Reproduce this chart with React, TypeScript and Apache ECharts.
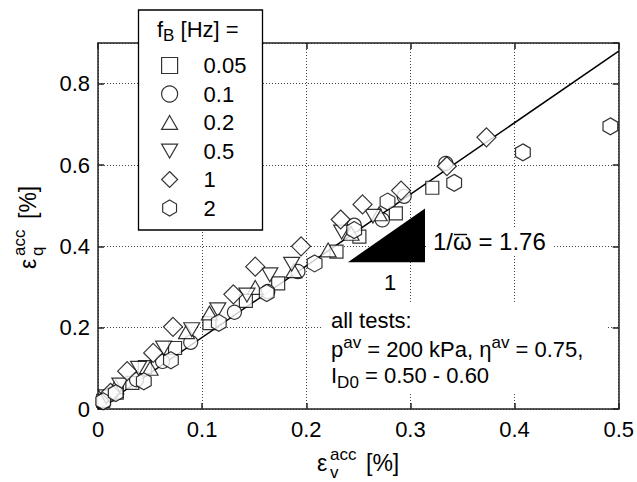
import React, { useEffect, useRef } from 'react';
import * as echarts from 'echarts';

const FONT = '"Liberation Sans", Arial, Helvetica, sans-serif';

// legend categories (f_B [Hz])
const freqNames = ['0.05', '0.1', '0.2', '0.5', '1', '2'];

// [eps_v_acc %, eps_q_acc %]
const pts005 = [[0.005, 0.02], [0.018, 0.04], [0.033, 0.064], [0.045, 0.103], [0.074, 0.15], [0.107, 0.211], [0.142, 0.266], [0.173, 0.309], [0.229, 0.387], [0.251, 0.424], [0.286, 0.481], [0.321, 0.544]];
const pts01 = [[0.012, 0.035], [0.037, 0.072], [0.062, 0.117], [0.089, 0.164], [0.131, 0.238], [0.163, 0.289], [0.192, 0.338], [0.246, 0.452], [0.273, 0.465], [0.294, 0.523], [0.334, 0.604]];
const pts02 = [[0.017, 0.055], [0.05, 0.1], [0.085, 0.19], [0.107, 0.236], [0.151, 0.299], [0.188, 0.34], [0.221, 0.391], [0.243, 0.432], [0.27, 0.48]];
const pts05 = [[0.008, 0.03], [0.021, 0.059], [0.039, 0.1], [0.063, 0.15], [0.09, 0.195], [0.115, 0.244], [0.143, 0.28], [0.165, 0.33], [0.186, 0.356], [0.234, 0.435], [0.264, 0.474]];
const pts1 = [[0.012, 0.04], [0.028, 0.093], [0.053, 0.138], [0.072, 0.202], [0.13, 0.282], [0.151, 0.35], [0.195, 0.4], [0.233, 0.466], [0.254, 0.503], [0.291, 0.537], [0.335, 0.597], [0.373, 0.668]];
const pts2 = [[0.005, 0.019], [0.017, 0.039], [0.044, 0.068], [0.07, 0.12], [0.116, 0.212], [0.162, 0.285], [0.208, 0.358], [0.246, 0.44], [0.278, 0.51], [0.342, 0.556], [0.408, 0.631], [0.492, 0.695]];

// fitted line 1/omega = 1.76
const fitLine = [[0, 0], [0.5, 0.88]];
// slope triangle vertices
const slopeTriangle = [[0.24, 0.361], [0.314, 0.361], [0.314, 0.493]];

const SQUARE = 'path://M0,0 L1,0 L1,1 L0,1 Z';
const DIAMOND = 'path://M1,0 L2,1 L1,2 L0,1 Z';
const HEX = 'path://M0.866,0 L1.732,0.5 L1.732,1.5 L0.866,2 L0,1.5 L0,0.5 Z';
const TRI_UP = 'path://M1,0 L2,1.732 L0,1.732 Z';
const TRI_DOWN = 'path://M0,0 L2,0 L1,1.732 Z';

const seriesDefs = [
  { name: freqNames[0], data: pts005, symbol: SQUARE, size: 13 },
  { name: freqNames[1], data: pts01, symbol: 'circle', size: 14 },
  { name: freqNames[2], data: pts02, symbol: TRI_UP, size: 16 },
  { name: freqNames[3], data: pts05, symbol: TRI_DOWN, size: 16 },
  { name: freqNames[4], data: pts1, symbol: DIAMOND, size: 19 },
  { name: freqNames[5], data: pts2, symbol: HEX, size: 17 },
];

const markerStyle = { color: '#fff', borderColor: '#000', borderWidth: 1.2 };

function txt(x: number, base: number, s: string, fs: number, extra: any = {}) {
  return {
    type: 'text',
    x,
    y: base - 0.34 * fs,
    z: 60,
    silent: true,
    style: { text: s, fontSize: fs, fontFamily: FONT, fill: '#000', align: 'left', verticalAlign: 'middle', ...extra },
  };
}

const richStyles = {
  m: { fontSize: 22, fontFamily: FONT, lineHeight: 30, verticalAlign: 'middle', color: '#000' },
  sup: { fontSize: 17, fontFamily: FONT, lineHeight: 15, verticalAlign: 'top', color: '#000' },
  sub: { fontSize: 17, fontFamily: FONT, lineHeight: 15, verticalAlign: 'bottom', color: '#000' },
};

function richTxt(x: number, base: number, s: string) {
  return {
    type: 'text',
    x,
    y: base - 0.34 * 22,
    z: 60,
    silent: true,
    style: { text: s, rich: richStyles, fontSize: 22, fontFamily: FONT, fill: '#000', align: 'left', verticalAlign: 'middle' },
  };
}

export default function App() {
  const ref = useRef<HTMLDivElement>(null);
  useEffect(() => {
    if (!ref.current) return;
    const chart = echarts.init(ref.current, undefined, { renderer: 'svg' });
    const axisLine = { show: true, onZero: false, lineStyle: { color: '#222', width: 1.5 } };
    const axisTick = { show: true, inside: true, length: 6, lineStyle: { color: '#222', width: 1.5 } };
    const splitLine = { show: true, lineStyle: { color: '#444', type: [1, 2], width: 1 } };
    const labelStyle = { fontSize: 22, color: '#000', fontFamily: FONT };
    const option: any = {
      animation: false,
      backgroundColor: '#fff',
      grid: { left: 98, right: 17, top: 43, bottom: 73, containLabel: false },
      xAxis: [
        { type: 'value', min: 0, max: 0.5, interval: 0.1, position: 'bottom', axisLine, axisTick, splitLine, axisLabel: { ...labelStyle, margin: 9 } },
        { type: 'value', min: 0, max: 0.5, interval: 0.1, position: 'top', axisLine, axisTick, splitLine: { show: false }, axisLabel: { show: false } },
      ],
      yAxis: [
        { type: 'value', min: 0, max: 0.9, interval: 0.2, position: 'left', axisLine, axisTick, splitLine, axisLabel: { ...labelStyle, margin: 8, showMaxLabel: false } },
        { type: 'value', min: 0, max: 0.9, interval: 0.2, position: 'right', axisLine, axisTick, splitLine: { show: false }, axisLabel: { show: false } },
      ],
      legend: {
        data: freqNames,
        orient: 'vertical',
        left: 161,
        top: 54.5,
        padding: 0,
        itemWidth: 16,
        itemHeight: 16,
        itemGap: 6.5,
        selectedMode: false,
        symbolKeepAspect: true,
        z: 30,
        itemStyle: { color: '#fff', borderColor: '#000', borderWidth: 1.2 },
        textStyle: { fontSize: 22, fontFamily: FONT, color: '#000', lineHeight: 22, padding: [0, 0, 0, 21] },
      },
      series: [
        {
          type: 'line',
          data: fitLine,
          symbol: 'none',
          lineStyle: { color: '#000', width: 1.5 },
          z: 1,
          silent: true,
        },
        ...seriesDefs.map((d) => ({
          type: 'scatter',
          name: d.name,
          data: d.data,
          symbol: d.symbol,
          symbolSize: d.size,
          symbolKeepAspect: true,
          itemStyle: markerStyle,
          emphasis: { disabled: true },
          silent: true,
          z: 3,
        })),
        {
          type: 'custom',
          coordinateSystem: 'cartesian2d',
          data: [slopeTriangle[0]],
          silent: true,
          z: 5,
          renderItem: (_p: any, api: any) => ({
            type: 'polygon',
            shape: { points: slopeTriangle.map((p) => api.coord(p)) },
            style: { fill: '#000' },
          }),
        },
      ],
      graphic: [
        // legend box
        { type: 'rect', z: 20, silent: true, shape: { x: 138.5, y: 10, width: 124, height: 220 }, style: { fill: '#fff', stroke: '#000', lineWidth: 1.3 } },
        { ...richTxt(157, 36.5, '{m|f}{sub|B}{m| [Hz] =}'), z: 25 },
        // annotation boxes
        { type: 'rect', z: 20, silent: true, shape: { x: 428, y: 228, width: 125, height: 28 }, style: { fill: '#fff' } },
        { type: 'rect', z: 20, silent: true, shape: { x: 322, y: 304, width: 284, height: 90 }, style: { fill: '#fff' } },
        txt(433, 250, '1/\u03C9 = 1.76', 24),
        { type: 'line', z: 60, silent: true, shape: { x1: 454, y1: 234.5, x2: 467, y2: 234.5 }, style: { stroke: '#000', lineWidth: 1.4 } },
        txt(390, 290, '1', 22, { align: 'center' }),
        txt(331, 328, 'all tests:', 22),
        richTxt(331, 356.5, '{m|p}{sup|av}{m| = 200 kPa, \u03B7}{sup|av}{m| = 0.75,}'),
        richTxt(331, 383.3, '{m|I}{sub|D0}{m| = 0.50 - 0.60}'),
        // x axis title
        txt(317, 471, '\u03B5', 23),
        txt(330, 460.5, 'acc', 17),
        txt(330, 478, 'v', 17),
        txt(366, 471, '[%]', 23),
        // y axis title (rotated)
        {
          type: 'group',
          x: 36,
          y: 226,
          rotation: Math.PI / 2,
          children: [
            txt(-43, 0, '\u03B5', 23),
            txt(-30, -10.5, 'acc', 17),
            txt(-30, 7, 'q', 17),
            txt(7, 0, '[%]', 23),
          ],
        },
      ],
    };
    chart.setOption(option);
    return () => chart.dispose();
  }, []);
  return <div ref={ref} style={{ position: 'fixed', left: 0, top: 0, width: 637, height: 482 }} />;
}
